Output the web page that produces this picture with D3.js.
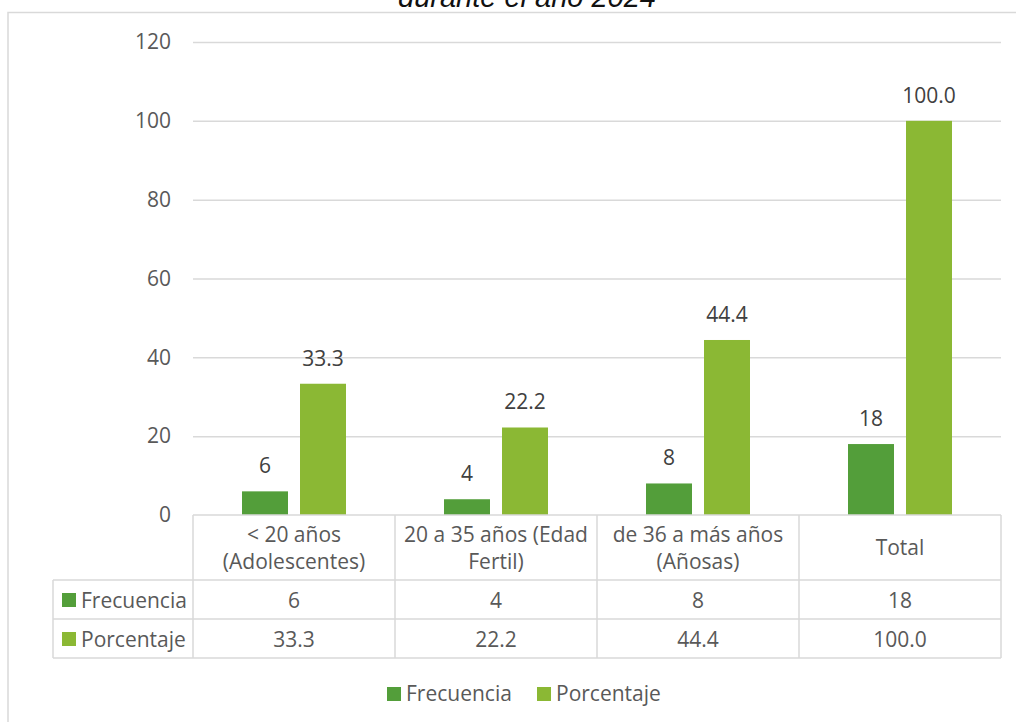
<!DOCTYPE html>
<html>
<head>
<meta charset="utf-8">
<script src="https://cdn.jsdelivr.net/npm/d3@7"></script>
<style>
  body { margin: 0; background: #fff; }
  svg { display: block; font-family: "Open Sans", "Noto Sans", sans-serif; }
</style>
</head>
<body>
<svg id="chart" width="1016" height="722"></svg>
<script>
// Chart data
const categories = [
  ["< 20 años", "(Adolescentes)"],
  ["20 a 35 años (Edad", "Fertil)"],
  ["de 36 a más años", "(Añosas)"],
  ["Total"],
];
const seriesNames = ["Frecuencia", "Porcentaje"];
const frecuencia = [6, 4, 8, 18];
const porcentaje = [33.3, 22.2, 44.4, 100.0];
const yTicks = [0, 20, 40, 60, 80, 100, 120];

const COLORS = ["#539e3a", "#8bb834"];
const TEXT = "#595959";
const LABEL = "#404040";
const GRID = "#d9d9d9";
const FONT_SIZE = 21;

const svg = d3.select("#chart");

// Layout - plot area and data table below it
const pad = { left: 193, right: 1001, top: 42, bottom: 515 };
const rowH = [65, 39, 39]; // header row, Frecuencia row, Porcentaje row
const tableLeft = 53;

// Outer chart border (only left/top visible in the frame)
svg.append("rect")
  .attr("x", 8).attr("y", 12.5)
  .attr("width", 1040).attr("height", 760)
  .attr("fill", "none").attr("stroke", GRID).attr("stroke-width", 1.5);

// Title, clipped at the top like the original
svg.append("text")
  .attr("x", 527).attr("y", 7)
  .attr("text-anchor", "middle")
  .attr("font-family", "Arial, 'Liberation Sans', sans-serif")
  .attr("font-style", "italic")
  .attr("font-size", 29)
  .attr("fill", "#111")
  .text("durante el año 2024");

const x = d3.scaleBand()
  .domain(d3.range(categories.length))
  .range([pad.left, pad.right]);

const x1 = d3.scaleBand()
  .domain(seriesNames)
  .range([0, x.bandwidth()])
  .paddingInner(0.207)
  .paddingOuter(0.845);

const y = d3.scaleLinear()
  .domain([0, 120])
  .range([pad.bottom, pad.top]);

// Grid
svg.append("g")
  .attr("transform", `translate(${pad.left},0)`)
  .call(d3.axisLeft(y).tickValues(yTicks.slice(1)).tickSize(-(pad.right - pad.left)).tickFormat(""))
  .call((g) => g.select(".domain").remove())
  .call((g) => g.selectAll(".tick line").attr("stroke", GRID).attr("stroke-width", 1.5));

// Y axis labels
svg.append("g")
  .attr("transform", `translate(${pad.left - 22},0)`)
  .call(d3.axisLeft(y).tickValues(yTicks).tickSize(0).tickPadding(0))
  .call((g) => g.select(".domain").remove())
  .call((g) => g.selectAll("text")
    .attr("fill", TEXT)
    .attr("font-size", FONT_SIZE)
    .attr("font-family", "'Open Sans', sans-serif"));

// Bars
const rows = categories.map((c, i) => ({ i, values: [frecuencia[i], porcentaje[i]] }));
const groups = svg.append("g")
  .selectAll("g")
  .data(rows)
  .join("g")
  .attr("transform", (d) => `translate(${x(d.i)},0)`);

groups.selectAll("rect")
  .data((d) => d.values.map((v, k) => ({ key: seriesNames[k], v })))
  .join("rect")
  .attr("x", (d) => x1(d.key))
  .attr("width", x1.bandwidth())
  .attr("y", (d) => y(d.v))
  .attr("height", (d) => y(0) - y(d.v))
  .attr("fill", (d, k) => COLORS[k]);

// Data labels
const fmt = [d3.format("d"), d3.format(".1f")];
groups.selectAll("text")
  .data((d) => d.values.map((v, k) => ({ key: seriesNames[k], v, k })))
  .join("text")
  .attr("x", (d) => x1(d.key) + x1.bandwidth() / 2)
  .attr("y", (d) => y(d.v) - 18)
  .attr("text-anchor", "middle")
  .attr("font-size", FONT_SIZE)
  .attr("fill", LABEL)
  .text((d) => fmt[d.k](d.v));

// Data table
const table = svg.append("g")
  .attr("fill", "none")
  .attr("stroke", GRID)
  .attr("stroke-width", 1.5);

const yRow0 = pad.bottom;
const yRow1 = yRow0 + rowH[0];
const yRow2 = yRow1 + rowH[1];
const yRow3 = yRow2 + rowH[2];

// horizontal lines
table.append("line").attr("x1", pad.left).attr("x2", pad.right).attr("y1", yRow0).attr("y2", yRow0);
[yRow1, yRow2, yRow3].forEach((yy) => {
  table.append("line").attr("x1", tableLeft).attr("x2", pad.right).attr("y1", yy).attr("y2", yy);
});
// vertical lines
d3.range(categories.length + 1).forEach((i) => {
  const xx = i < categories.length ? x(i) : pad.right;
  table.append("line").attr("x1", xx).attr("x2", xx).attr("y1", yRow0).attr("y2", yRow3);
});
table.append("line").attr("x1", tableLeft).attr("x2", tableLeft).attr("y1", yRow1).attr("y2", yRow3);

// category headers
const headers = svg.append("g")
  .selectAll("text")
  .data(categories)
  .join("text")
  .attr("text-anchor", "middle")
  .attr("font-size", FONT_SIZE)
  .attr("fill", TEXT)
  .attr("x", (d, i) => x(i) + x.bandwidth() / 2)
  .attr("y", (d) => d.length > 1 ? yRow0 + 27 : yRow0 + 40);
headers.selectAll("tspan")
  .data((d) => d)
  .join("tspan")
  .attr("x", function () { return d3.select(this.parentNode).attr("x"); })
  .attr("dy", (d, i) => (i === 0 ? 0 : 26.5))
  .text((d) => d);

// values rows
const seriesRows = [frecuencia, porcentaje];
seriesRows.forEach((vals, k) => {
  const yy = (k === 0 ? yRow1 : yRow2) + 28;
  const g = svg.append("g");
  g.append("rect")
    .attr("x", 62).attr("y", yy - 15)
    .attr("width", 14).attr("height", 14)
    .attr("fill", COLORS[k]);
  g.append("text")
    .attr("x", 81).attr("y", yy)
    .attr("font-size", FONT_SIZE).attr("fill", TEXT)
    .text(seriesNames[k]);
  g.selectAll("text.v")
    .data(vals)
    .join("text")
    .attr("class", "v")
    .attr("x", (d, i) => x(i) + x.bandwidth() / 2)
    .attr("y", yy)
    .attr("text-anchor", "middle")
    .attr("font-size", FONT_SIZE)
    .attr("fill", TEXT)
    .text((d) => fmt[k](d));
});

// Legend
const legendX = [387, 537];
const legend = svg.append("g")
  .selectAll("g")
  .data(seriesNames)
  .join("g")
  .attr("transform", (d, i) => `translate(${legendX[i]},687)`);
legend.append("rect")
  .attr("width", 14).attr("height", 14)
  .attr("fill", (d, i) => COLORS[i]);
legend.append("text")
  .attr("x", 19).attr("y", 14)
  .attr("font-size", FONT_SIZE).attr("fill", TEXT)
  .text((d) => d);
</script>
</body>
</html>
